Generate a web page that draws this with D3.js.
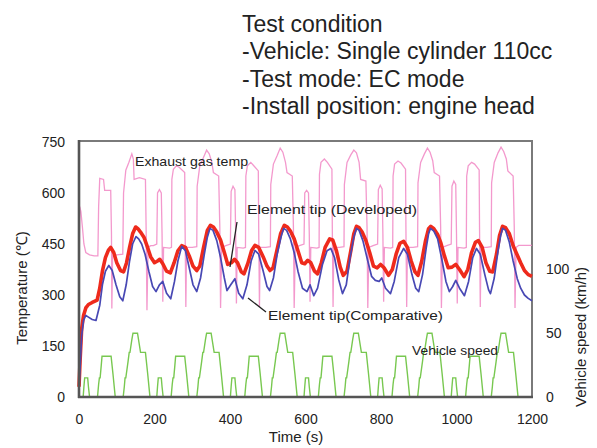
<!DOCTYPE html>
<html>
<head>
<meta charset="utf-8">
<script src="https://cdn.jsdelivr.net/npm/d3@7"></script>
<style>
  body { margin: 0; background: #fff; }
  text { font-family: "Liberation Sans", Arial, sans-serif; fill: #222; }
</style>
</head>
<body>
<div id="plot"></div>
<script>
// test condition notes
const conditionLines = [
  "Test condition",
  "-Vehicle: Single cylinder 110cc",
  "-Test mode: EC mode",
  "-Install position: engine head"
];

const timeTicks = [0, 200, 400, 600, 800, 1000, 1200];
const tempTicks = [0, 150, 300, 450, 600, 750];
const speedTicks = [0, 50, 100];

// [time (s), km/h]
const vehicleSpeed = [
  [0,0],[11,0],[13,8],[15,15],[23,15],[25,8],[28,0],[49,0],[52,10],[54,15],[56,15],[59,25],[61,32],[85,32],[90,18],[96,0],
  [117,0],[120,8],[122,15],[124,15],[130,28],[133,35],[135,35],[140,45],[143,50],[155,50],[163,35],[176,35],[182,18],[188,0],
  [206,0],[208,8],[210,15],[218,15],[220,8],[223,0],[244,0],[247,10],[249,15],[251,15],[254,25],[256,32],[280,32],[285,18],[291,0],
  [312,0],[315,8],[317,15],[319,15],[325,28],[328,35],[330,35],[335,45],[338,50],[350,50],[358,35],[371,35],[377,18],[383,0],
  [401,0],[403,8],[405,15],[413,15],[415,8],[418,0],[439,0],[442,10],[444,15],[446,15],[449,25],[451,32],[475,32],[480,18],[486,0],
  [507,0],[510,8],[512,15],[514,15],[520,28],[523,35],[525,35],[530,45],[533,50],[545,50],[553,35],[566,35],[572,18],[578,0],
  [596,0],[598,8],[600,15],[608,15],[610,8],[613,0],[634,0],[637,10],[639,15],[641,15],[644,25],[646,32],[670,32],[675,18],[681,0],
  [702,0],[705,8],[707,15],[709,15],[715,28],[718,35],[720,35],[725,45],[728,50],[740,50],[748,35],[761,35],[767,18],[773,0],
  [791,0],[793,8],[795,15],[803,15],[805,8],[808,0],[829,0],[832,10],[834,15],[836,15],[839,25],[841,32],[865,32],[870,18],[876,0],
  [897,0],[900,8],[902,15],[904,15],[910,28],[913,35],[915,35],[920,45],[923,50],[935,50],[943,35],[956,35],[962,18],[968,0],
  [986,0],[988,8],[990,15],[998,15],[1000,8],[1003,0],[1024,0],[1027,10],[1029,15],[1031,15],[1034,25],[1036,32],[1060,32],[1065,18],[1071,0],
  [1092,0],[1095,8],[1097,15],[1099,15],[1105,28],[1108,35],[1110,35],[1115,45],[1118,50],[1130,50],[1138,35],[1151,35],[1157,18],[1163,0],[1200,0]
];

// [time (s), deg C]
const exhaustTemp = [
  [0,330],[2,560],[5,545],[9,500],[13,450],[18,425],[28,418],[40,415],[50,415],[52,560],[55,643],[65,640],[68,608],[84,608],[86,480],[87,260],[89,415],[100,418],[116,420],
  [118,600],[124,667],[132,690],[140,715],[144,700],[146,640],[160,645],[176,640],[178,480],[180,255],[183,440],[190,445],
  [197,445],[206,450],[208,600],[213,610],[218,600],[220,480],[222,280],[224,440],[240,438],[245,440],[246,640],[250,670],[258,680],[266,675],[280,660],[281,500],[283,265],[285,440],[300,440],[312,442],
  [313,620],[320,680],[330,705],[338,726],[345,715],[352,690],[356,660],[370,650],[373,500],[375,262],[378,440],[389,445],
  [401,450],[403,605],[408,620],[413,610],[415,480],[417,275],[419,440],[435,438],[441,440],[442,650],[446,680],[455,690],[463,680],[475,665],[476,500],[478,265],[480,440],[495,440],[507,442],
  [508,625],[515,685],[525,710],[533,732],[540,720],[547,690],[551,660],[565,650],[568,500],[570,262],[573,440],[584,445],
  [596,450],[598,600],[603,608],[608,600],[610,480],[612,280],[614,440],[630,438],[636,440],[637,655],[641,690],[650,700],[658,690],[670,670],[671,500],[673,265],[675,440],[690,440],[702,442],
  [703,625],[710,690],[720,712],[728,726],[735,718],[742,690],[746,640],[760,635],[763,500],[765,262],[768,440],[779,445],
  [791,450],[793,610],[798,623],[803,612],[805,480],[807,280],[809,440],[825,438],[831,440],[832,650],[836,685],[845,694],[853,688],[865,670],[866,500],[868,265],[870,440],[885,440],[897,442],
  [898,630],[905,690],[915,715],[923,732],[930,720],[937,695],[941,660],[955,650],[958,500],[960,262],[963,440],[974,445],
  [986,450],[988,620],[993,635],[998,625],[1000,480],[1002,275],[1004,440],[1020,438],[1026,440],[1027,650],[1031,680],[1040,690],[1048,685],[1060,668],[1061,500],[1063,265],[1065,440],[1080,440],[1092,442],
  [1093,630],[1100,690],[1110,718],[1118,735],[1125,722],[1132,700],[1136,665],[1150,650],[1153,500],[1155,262],[1158,440],[1165,446],[1200,446]
];

const tipDeveloped = [
  [0,30],[3,110],[7,200],[12,240],[18,262],[25,272],[35,278],[48,285],[55,320],[62,370],[70,410],[78,432],[84,440],[92,425],[100,395],[110,372],[118,368],
  [126,395],[134,440],[142,480],[150,500],[156,495],[163,485],[172,470],[180,445],[190,412],[200,395],[208,400],[214,405],[222,392],[232,370],[242,365],
  [252,395],[262,430],[272,445],[282,440],[292,415],[302,385],[312,372],[320,385],[330,440],[340,490],[348,505],[356,500],[365,485],[375,462],[385,425],
  [394,390],[404,395],[412,405],[420,395],[430,368],[437,362],[447,392],[457,430],[466,446],[476,440],[488,412],[498,385],[506,372],[514,380],[524,430],
  [534,480],[544,505],[552,500],[560,488],[570,465],[580,430],[590,395],[598,392],[606,402],[614,395],[624,370],[632,362],[642,395],[652,440],[664,465],
  [672,462],[682,430],[692,382],[700,358],[710,370],[720,430],[728,480],[735,502],[742,498],[750,485],[760,460],[770,425],[780,385],[790,380],[799,390],
  [808,380],[820,358],[830,375],[840,420],[850,452],[860,458],[870,440],[880,400],[890,368],[898,358],[908,400],[918,460],[926,495],[932,502],[940,495],
  [950,478],[958,455],[968,415],[978,380],[988,382],[998,390],[1008,375],[1020,354],[1030,375],[1040,425],[1050,455],[1058,460],[1068,440],[1078,395],
  [1088,370],[1096,368],[1106,420],[1114,475],[1122,502],[1130,498],[1140,480],[1150,445],[1160,420],[1170,395],[1180,372],[1190,360],[1200,355]
];

const tipComparative = [
  [0,20],[3,90],[7,180],[12,225],[18,240],[25,235],[35,228],[45,225],[55,270],[62,330],[70,370],[79,387],[88,372],[98,330],[108,295],[116,283],
  [125,330],[134,400],[142,450],[151,472],[158,465],[166,450],[175,420],[185,370],[195,325],[204,310],[213,330],[222,340],[232,305],[243,289],
  [253,340],[262,400],[272,443],[282,430],[292,380],[302,330],[312,310],[322,350],[332,420],[340,470],[347,496],[355,490],[365,460],[375,410],[385,350],
  [392,313],[402,330],[413,348],[423,305],[434,289],[445,330],[456,400],[466,431],[476,420],[488,370],[498,325],[505,313],[515,350],[525,420],
  [535,470],[542,496],[550,490],[560,465],[570,425],[580,370],[592,320],[604,310],[612,330],[622,298],[632,320],[645,390],[657,430],[667,437],
  [677,410],[688,345],[698,304],[708,330],[718,410],[728,470],[735,496],[742,490],[752,460],[765,400],[775,355],[785,343],[795,340],[802,350],
  [812,320],[825,304],[835,340],[847,410],[860,437],[870,420],[882,360],[892,320],[900,310],[910,360],[920,440],[926,480],[931,496],[940,488],
  [950,465],[962,400],[972,340],[981,310],[990,325],[998,343],[1008,320],[1021,298],[1032,340],[1043,410],[1053,437],[1063,420],[1075,360],
  [1085,315],[1090,304],[1100,350],[1110,430],[1117,475],[1122,496],[1130,490],[1140,455],[1150,400],[1161,348],[1170,320],[1180,300],[1190,290],[1200,283]
];

const width = 597, height = 448;
const plotLeft = 79, plotRight = 532, plotTop = 142, plotBottom = 397;

const svg = d3.select("#plot")
  .append("svg")
    .attr("width", width)
    .attr("height", height);

// condition text block
svg.selectAll(".cond")
  .data(conditionLines)
  .join("text")
    .attr("class", "cond")
    .attr("x", 242)
    .attr("y", (d, i) => 32 + i * 27.4)
    .style("font-size", "23px")
    .text(d => d);

const x = d3.scaleLinear().domain([0, 1200]).range([plotLeft, plotRight]);
const yT = d3.scaleLinear().domain([0, 750]).range([plotBottom, plotTop]);
const yV = d3.scaleLinear().domain([0, 200]).range([plotBottom, plotTop]);

// frame
svg.append("rect")
  .attr("x", plotLeft).attr("y", plotTop - 1)
  .attr("width", plotRight - plotLeft).attr("height", plotBottom - plotTop + 1)
  .attr("fill", "#fff")
  .attr("stroke", "#7a7a7a")
  .attr("stroke-width", 2);

const lineT = d3.line().x(d => x(d[0])).y(d => yT(d[1]));
const lineV = d3.line().x(d => x(d[0])).y(d => yV(d[1]));

svg.append("path").datum(exhaustTemp)
  .attr("d", lineT).attr("fill", "none")
  .attr("stroke", "#f080c0").attr("stroke-opacity", 0.8).attr("stroke-width", 1.3);

svg.append("path").datum(vehicleSpeed)
  .attr("d", lineV).attr("fill", "none")
  .attr("stroke", "#78c850").attr("stroke-width", 1.4);

svg.append("path").datum(tipDeveloped)
  .attr("d", lineT).attr("fill", "none")
  .attr("stroke", "#ee2a1c").attr("stroke-width", 3.6)
  .attr("stroke-linejoin", "round");

svg.append("path").datum(tipComparative)
  .attr("d", lineT).attr("fill", "none")
  .attr("stroke", "#4848b4").attr("stroke-width", 1.7)
  .attr("stroke-linejoin", "round");

// axes lines (left and bottom darker)
svg.append("line").attr("x1", plotLeft).attr("x2", plotLeft).attr("y1", plotTop - 2).attr("y2", plotBottom + 1)
  .attr("stroke", "#555").attr("stroke-width", 2.6);
svg.append("line").attr("x1", plotLeft - 1).attr("x2", plotRight + 1).attr("y1", plotBottom).attr("y2", plotBottom)
  .attr("stroke", "#555").attr("stroke-width", 2.6);

// tick labels
const leftAxis = svg.append("g")
  .attr("transform", `translate(${plotLeft},0)`)
  .call(d3.axisLeft(yT).tickValues(tempTicks).tickSize(0).tickPadding(14));
const bottomAxis = svg.append("g")
  .attr("transform", `translate(0,${plotBottom})`)
  .call(d3.axisBottom(x).tickValues(timeTicks).tickFormat(d3.format("d")).tickSize(0).tickPadding(17));
const rightAxis = svg.append("g")
  .attr("transform", `translate(${plotRight},0)`)
  .call(d3.axisRight(yV).tickValues(speedTicks).tickSize(0).tickPadding(14));

[leftAxis, bottomAxis, rightAxis].forEach(function(g) {
  g.select(".domain").remove();
  g.selectAll("text")
    .style("font-size", "14px")
    .style("font-family", "\"Liberation Sans\", Arial, sans-serif")
    .attr("fill", "#333");
});

// axis titles
svg.append("text")
  .attr("transform", "translate(27,288) rotate(-90)")
  .attr("text-anchor", "middle")
  .style("font-size", "15px")
  .text("Temperature (\u2103)");

svg.append("text")
  .attr("x", 296).attr("y", 442)
  .attr("text-anchor", "middle")
  .style("font-size", "15px")
  .text("Time (s)");

svg.append("text")
  .attr("transform", "translate(586,337) rotate(-90)")
  .attr("text-anchor", "middle")
  .style("font-size", "15px")
  .text("Vehicle speed (km/h)");

// annotations
const notes = [
  { label: "Exhaust gas temp", x: 135, y: 166, w: 113 },
  { label: "Element tip (Developed)", x: 247, y: 214, w: 170 },
  { label: "Element tip(Comparative)", x: 268, y: 320, w: 175 },
  { label: "Vehicle speed", x: 412, y: 355, w: 86 }
];
svg.selectAll(".note")
  .data(notes)
  .join("text")
    .attr("class", "note")
    .attr("x", d => d.x).attr("y", d => d.y)
    .attr("textLength", d => d.w)
    .attr("lengthAdjust", "spacingAndGlyphs")
    .style("font-size", "13px")
    .text(d => d.label);

svg.append("line").attr("x1", 237).attr("y1", 222).attr("x2", 230).attr("y2", 267)
  .attr("stroke", "#222").attr("stroke-width", 1.3);
svg.append("line").attr("x1", 248).attr("y1", 298).attr("x2", 266).attr("y2", 312)
  .attr("stroke", "#222").attr("stroke-width", 1.3);
</script>
</body>
</html>
